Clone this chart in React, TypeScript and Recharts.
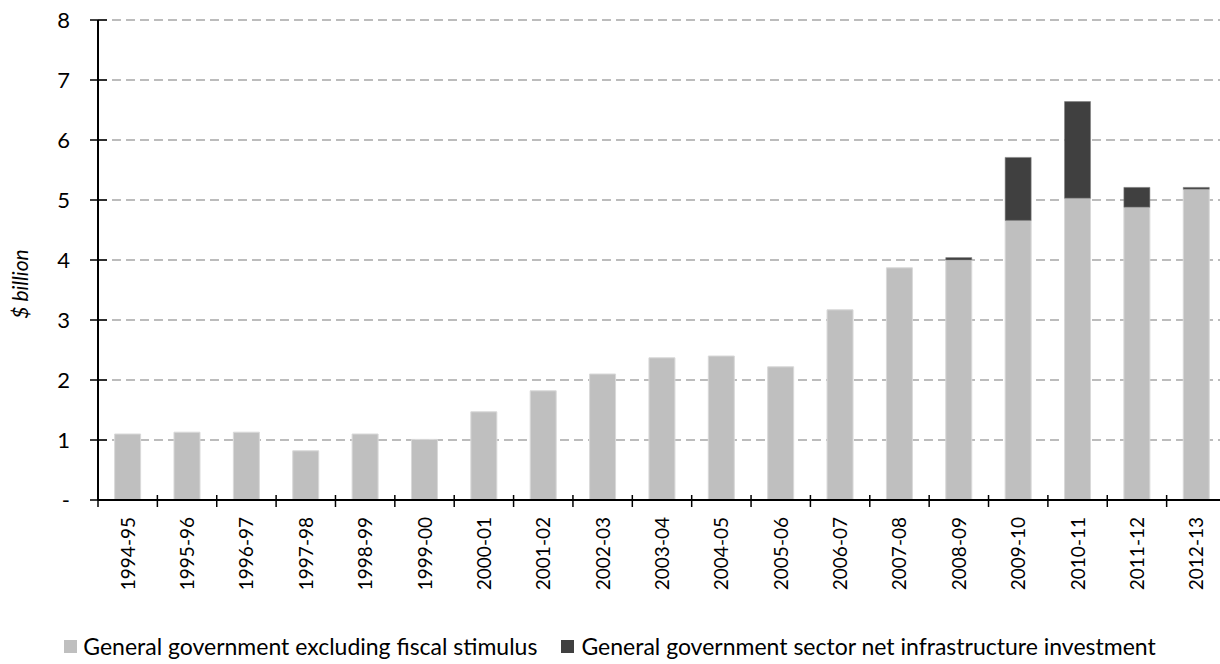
import React from 'react'
import { BarChart, Bar, XAxis, YAxis, CartesianGrid, Legend } from 'recharts'

const years = [
  '1994-95', '1995-96', '1996-97', '1997-98', '1998-99', '1999-00', '2000-01',
  '2001-02', '2002-03', '2003-04', '2004-05', '2005-06', '2006-07', '2007-08',
  '2008-09', '2009-10', '2010-11', '2011-12', '2012-13',
]
const excludingStimulus = [
  1.1, 1.13, 1.13, 0.82, 1.1, 1.01, 1.47, 1.82, 2.1, 2.37, 2.4, 2.22, 3.17, 3.87,
  4.0, 4.66, 5.03, 4.88, 5.18,
]
const netInfrastructure = [
  0, 0, 0, 0, 0, 0, 0, 0, 0, 0, 0, 0, 0, 0, 0.04, 1.05, 1.61, 0.33, 0.03,
]
const yTicks = [0, 1, 2, 3, 4, 5, 6, 7, 8]

const data = years.map((year, i) => ({
  year,
  excl: excludingStimulus[i],
  infra: netInfrastructure[i],
}))

const FONT = 'Lato, "Open Sans", sans-serif'
const BAND = 1128 / years.length

const YTick = (props: any) => {
  const { x, y, payload } = props
  return (
    <g>
      <line x1={x + 2} x2={x + 19} y1={y} y2={y} stroke="#000" strokeWidth={1.5} />
      <text x={x - 18} y={y} dy={8} textAnchor="end" fontSize={22} fill="#000" fontFamily={FONT}>
        {payload.value === 0 ? '-' : payload.value}
      </text>
    </g>
  )
}

const XTick = (props: any) => {
  const { x, y, payload, index } = props
  const tx = x - BAND / 2
  return (
    <g>
      <line x1={tx} x2={tx} y1={y - 13} y2={y - 1} stroke="#000" strokeWidth={1.5} />
      {index === years.length - 1 && (
        <line x1={tx + BAND} x2={tx + BAND} y1={y - 13} y2={y - 1} stroke="#000" strokeWidth={1.5} />
      )}
      <text
        transform={`translate(${x + 7}, ${y + 9}) rotate(-90)`}
        textAnchor="end"
        fontSize={19}
        fill="#000"
        fontFamily={FONT}
      >
        {payload.value}
      </text>
    </g>
  )
}

const LegendContent = () => (
  <div style={{ display: 'flex', justifyContent: 'center', fontFamily: FONT, fontSize: 23, color: '#000', lineHeight: '28px' }}>
    <span style={{ display: 'flex', alignItems: 'center', marginRight: 24 }}>
      <span style={{ width: 13, height: 13, background: '#bfbfbf', marginRight: 6 }} />
      General government excluding fiscal stimulus
    </span>
    <span style={{ display: 'flex', alignItems: 'center' }}>
      <span style={{ width: 13, height: 13, background: '#404040', marginRight: 7 }} />
      General government sector net infrastructure investment
    </span>
  </div>
)

export default function App() {
  return (
    <div style={{ position: 'fixed', left: 0, top: 0, width: 1220, height: 664, overflow: 'hidden', background: '#fff' }}>
      <BarChart
        width={1230}
        height={664}
        data={data}
        margin={{ top: 20, right: 4, left: 0, bottom: 0 }}
        barCategoryGap="28%"
      >
        <CartesianGrid vertical={false} stroke="#a6a6a6" strokeDasharray="9 5" strokeWidth={1.3} horizontalValues={[1, 2, 3, 4, 5, 6, 7, 8]} />
        <XAxis
          dataKey="year"
          height={124}
          interval={0}
          axisLine={{ stroke: '#000', strokeWidth: 2 }}
          tickLine={false}
          tick={<XTick />}
          tickSize={6}
        />
        <YAxis
          width={98}
          domain={[0, 8]}
          ticks={yTicks}
          interval={0}
          axisLine={{ stroke: '#000', strokeWidth: 2 }}
          tickLine={false}
          tick={<YTick />}
          tickSize={8}
          label={{
            value: '$ billion',
            angle: -90,
            position: 'insideLeft',
            dx: 16,
            dy: 24,
            style: { fontFamily: FONT, fontStyle: 'italic', fontSize: 21, fill: '#000', textAnchor: 'middle' },
          }}
        />
        <Legend
          verticalAlign="bottom"
          height={40}
          content={<LegendContent />}
          wrapperStyle={{ position: 'absolute', top: 632, left: 0, width: 1220, bottom: 'auto' }}
        />
        <Bar dataKey="excl" stackId="a" fill="#bfbfbf" stroke="#d9d9d9" strokeWidth={1} isAnimationActive={false} />
        <Bar dataKey="infra" stackId="a" fill="#404040" stroke="#7f7f7f" strokeWidth={0.6} isAnimationActive={false} />
      </BarChart>
    </div>
  )
}
